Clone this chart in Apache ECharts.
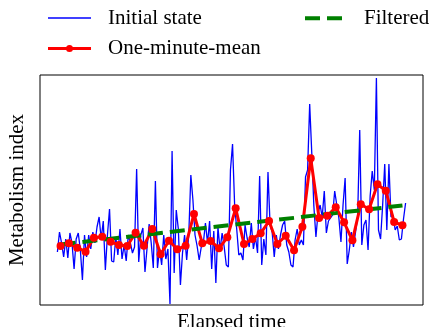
<!DOCTYPE html>
<html>
<head>
<meta charset="utf-8">
<title>Metabolism index</title>
<script src="https://cdn.jsdelivr.net/npm/echarts@6/dist/echarts.min.js"></script>
<style>
  html, body { margin: 0; padding: 0; background: #fff; }
  #chart { width: 431px; height: 327px; }
</style>
</head>
<body>
<div id="chart"></div>
<script>
// raw samples, 4 per minute
const initialState = [
  53, 73, 62, 48, 66, 47, 72, 62, 36, 66, 72, 55, 25, 70, 48, 70,
  56, 73, 62, 78, 88, 66, 84, 35, 70, 96, 44, 43, 68, 50, 76, 46,
  60, 44, 70, 62, 52, 58, 136, 43, 70, 77, 33, 57, 81, 62, 37, 124,
  37, 56, 40, 70, 46, 56, 1, 154, 32, 95, 76, 20, 52, 70, 45, 70,
  130, 105, 70, 59, 45, 58, 62, 82, 62, 84, 36, 74, 22, 78, 55, 72,
  58, 40, 38, 135, 161, 100, 76, 50, 52, 45, 80, 67, 58, 82, 56, 68,
  52, 129, 40, 66, 50, 133, 80, 73, 48, 70, 56, 70, 80, 84, 60, 53,
  40, 38, 65, 76, 60, 65, 60, 128, 135, 201, 152, 99, 68, 92, 100, 88,
  114, 72, 84, 87, 90, 114, 100, 87, 63, 100, 127, 41, 55, 73, 58, 73,
  88, 175, 60, 80, 85, 55, 109, 134, 115, 227, 75, 66, 100, 141, 75, 141,
  88, 90, 75, 79, 65, 66, 86, 102
];

// one-minute means
const minuteMean = [
  59, 61.7, 57.3, 53.3, 67.3, 68.3, 63.3, 60, 59, 72.3,
  59.3, 76, 50.7, 64.3, 55.7, 59.3, 91, 61.7, 64, 56.7,
  67.7, 96.7, 61, 66, 71.7, 84, 61, 69.3, 54.7, 78.3,
  146.7, 87, 89.3, 97.7, 82.7, 64.7, 100.7, 95.7, 120.7, 114.3,
  83, 79.7
];

// straight trend line: first and last value
const filteredEnds = [60.5, 99.5];

const samplesPerMinute = 4;
const font = "'Liberation Serif', 'Times New Roman', serif";

const blueData = initialState.map((v, i) => [i, v]);
const redData = minuteMean.map((v, i) => [i * samplesPerMinute + 1.5, v]);
const lastMid = (minuteMean.length - 1) * samplesPerMinute + 1.5;
const greenData = [[1.5, filteredEnds[0]], [lastMid, filteredEnds[1]]];

const chart = echarts.init(document.getElementById('chart'));

function legendItem(name, left, top, w, h, icon, pad) {
  return {
    data: [{ name: name, icon: icon }],
    left: left,
    top: top,
    padding: 0,
    itemWidth: w,
    itemHeight: h,
    selectedMode: false,
    textStyle: {
      fontFamily: font,
      fontSize: 21,
      color: '#000',
      padding: [0, 0, 0, pad],
    },
  };
}

chart.setOption({
  animation: false,
  backgroundColor: '#fff',
  legend: [
    legendItem('Initial state', 48, 7.5, 43, 1.4,
      'path://M0,0h43v1.4h-43z', 12),
    legendItem('One-minute-mean', 48, 38, 43, 7,
      'path://M0,2h43v3h-43zM25,3.5A3.5,3.5 0 1,1 18,3.5A3.5,3.5 0 1,1 25,3.5z', 12),
    legendItem('Filtered', 305, 7.8, 37, 4,
      'path://M0,0h15v4h-15zM22,0h15v4h-15z', 17),
  ],
  grid: {
    left: 40,
    right: 8,
    top: 75,
    bottom: 22,
    show: true,
    borderColor: '#000',
    borderWidth: 1,
    containLabel: false,
    outerBoundsMode: 'none',
  },
  xAxis: {
    type: 'value',
    min: -8.35,
    max: 175.35,
    name: 'Elapsed time',
    nameLocation: 'middle',
    nameGap: 7,
    nameTextStyle: { fontFamily: font, fontSize: 21, color: '#000', verticalAlign: 'top' },
    axisLine: { show: false },
    axisTick: { show: false },
    axisLabel: { show: false },
    splitLine: { show: false },
  },
  yAxis: {
    type: 'value',
    min: 0,
    max: 230,
    name: 'Metabolism index',
    nameLocation: 'middle',
    nameGap: 12,
    nameTextStyle: { fontFamily: font, fontSize: 21, color: '#000' },
    axisLine: { show: false },
    axisTick: { show: false },
    axisLabel: { show: false },
    splitLine: { show: false },
  },
  series: [
    {
      name: 'Initial state',
      type: 'line',
      data: blueData,
      symbol: 'none',
      color: '#0000ff',
      lineStyle: { color: '#0000ff', width: 1.3 },
    },
    {
      name: 'One-minute-mean',
      type: 'line',
      data: redData,
      symbol: 'circle',
      symbolSize: 8,
      showAllSymbol: true,
      color: '#ff0000',
      itemStyle: { color: '#ff0000', borderWidth: 0 },
      lineStyle: { color: '#ff0000', width: 3 },
    },
    {
      // trend drawn above the means
      name: 'Filtered',
      type: 'line',
      z: 3,
      data: greenData,
      symbol: 'none',
      color: '#008000',
      lineStyle: { color: '#008000', width: 4, type: [15, 7] },
    },
  ],
});
</script>
</body>
</html>
